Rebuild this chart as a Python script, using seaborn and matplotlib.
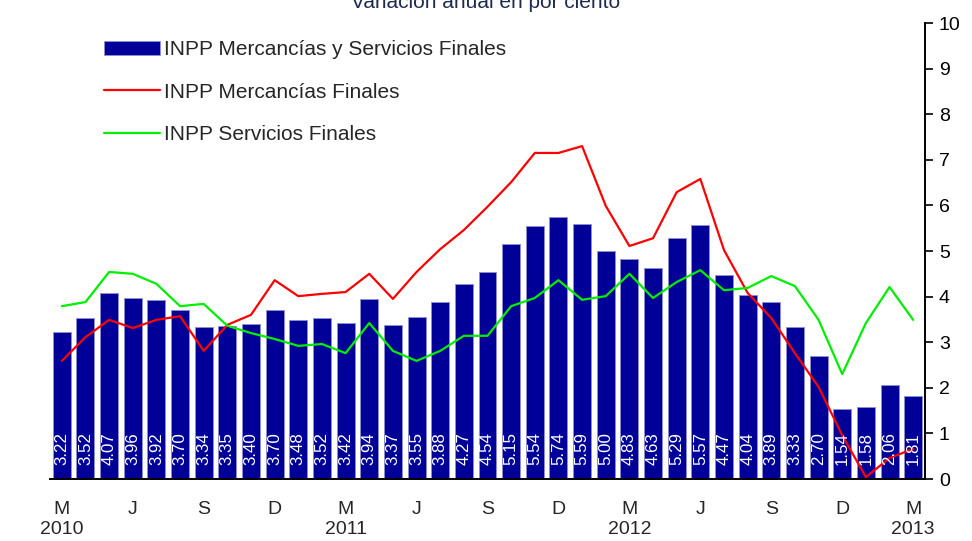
import numpy as np
import pandas as pd
import matplotlib
matplotlib.use("Agg")
import matplotlib.pyplot as plt
import seaborn as sns

# Monthly data, March 2010 - March 2013
months = ["M", "A", "M", "J", "J", "A", "S", "O", "N", "D", "E", "F"] * 3 + ["M"]
year_labels = {0: "2010", 12: "2011", 24: "2012", 36: "2013"}

total = [3.22, 3.52, 4.07, 3.96, 3.92, 3.70, 3.34, 3.35, 3.40, 3.70, 3.48, 3.52,
         3.42, 3.94, 3.37, 3.55, 3.88, 4.27, 4.54, 5.15, 5.54, 5.74, 5.59, 5.00,
         4.83, 4.63, 5.29, 5.57, 4.47, 4.04, 3.89, 3.33, 2.70, 1.54, 1.58, 2.06,
         1.81]
mercancias = [2.59, 3.11, 3.49, 3.31, 3.49, 3.57, 2.81, 3.38, 3.60, 4.36, 4.01, 4.06,
              4.10, 4.50, 3.95, 4.54, 5.04, 5.46, 5.97, 6.51, 7.15, 7.15, 7.30, 5.99,
              5.11, 5.28, 6.29, 6.58, 5.02, 4.08, 3.53, 2.76, 2.02, 0.96, 0.04, 0.46,
              0.66]
servicios = [3.79, 3.88, 4.54, 4.50, 4.28, 3.79, 3.84, 3.36, 3.20, 3.07, 2.92, 2.96,
             2.76, 3.42, 2.81, 2.59, 2.81, 3.14, 3.14, 3.79, 3.97, 4.36, 3.93, 4.01,
             4.50, 3.97, 4.32, 4.58, 4.14, 4.19, 4.45, 4.23, 3.49, 2.30, 3.42, 4.21,
             3.49]

df = pd.DataFrame({"idx": np.arange(len(total)), "total": total,
                   "merc": mercancias, "serv": servicios})

sns.set_style("white")
plt.rcParams["font.family"] = ["Liberation Sans", "DejaVu Sans"]

fig = plt.figure(figsize=(9.72, 5.41), dpi=100)
ax = fig.add_axes([50 / 972, 1 - 479 / 541, (925 - 50) / 972, (479 - 23) / 541])

sns.barplot(data=df, x="idx", y="total", color="#000099", saturation=1,
            width=0.76, edgecolor="#8f8fd0", linewidth=0.6, ax=ax,
            label="INPP Mercancías y Servicios Finales")
ax.plot(df["idx"], df["merc"], color="#ff0000", lw=1.6,
        label="INPP Mercancías Finales")
ax.plot(df["idx"], df["serv"], color="#00ee00", lw=1.6,
        label="INPP Servicios Finales")

for i, v in enumerate(total):
    ax.text(i, 0.31, f"{v:.2f}", rotation=90, ha="center", va="bottom",
            color="white", fontsize=12.2)

ax.set_xlim(-0.5, len(total) - 0.5)
ax.set_ylim(0, 10)
ax.set_xlabel("")
ax.set_ylabel("")

# y axis on the right
ax.yaxis.tick_right()
ax.set_yticks(range(0, 11))
ax.tick_params(axis="y", direction="out", length=6, width=1.2, labelsize=14,
               colors="black", pad=4)

# x ticks at bar boundaries, labels at bar centres
ax.set_xticks(np.arange(-0.5, len(total), 1))
ax.set_xticklabels([])
ax.tick_params(axis="x", which="major", direction="out", length=6, width=1.2)
lab_pos, lab_txt = [], []
for i, m in enumerate(months):
    if i % 3 == 0:
        lab_pos.append(i)
        lab_txt.append(m + ("\n" + year_labels[i] if i in year_labels else ""))
ax.set_xticks(lab_pos, minor=True)
ax.set_xticklabels(lab_txt, minor=True, fontsize=14, linespacing=1.25)
ax.tick_params(axis="x", which="minor", length=0, pad=16)

for s in ["top", "left"]:
    ax.spines[s].set_visible(False)
for s in ["right", "bottom"]:
    ax.spines[s].set_linewidth(1.4)
    ax.spines[s].set_color("black")

handles, labels = ax.get_legend_handles_labels()
order = [labels.index("INPP Mercancías y Servicios Finales"),
         labels.index("INPP Mercancías Finales"),
         labels.index("INPP Servicios Finales")]
ax.legend([handles[k] for k in order], [labels[k] for k in order],
          loc="upper left", bbox_to_anchor=(96 / 972, 1 - 32 / 541),
          bbox_transform=fig.transFigure, frameon=False, fontsize=15,
          handlelength=2.65, handletextpad=0.2, labelspacing=1.12,
          borderaxespad=0)

fig.text(0.5, 1 - 8 / 541, "Variación anual en por ciento", ha="center",
         va="baseline", fontsize=15, color="#1f2a4f")

fig.savefig("out.png", dpi=100)
